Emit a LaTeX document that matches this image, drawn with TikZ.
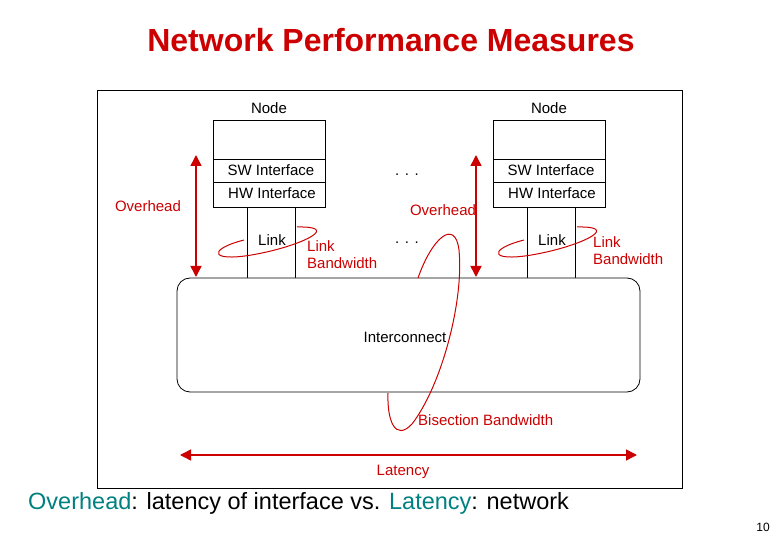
\documentclass[tikz,border=0pt]{standalone}
\usepackage{fontspec}
\setmainfont{Liberation Sans}
\usetikzlibrary{arrows.meta}
\definecolor{rd}{RGB}{204,0,0}
\definecolor{tl}{RGB}{0,128,128}
\begin{document}
\begin{tikzpicture}[x=1pt,y=-1pt,
  lbl/.style={font=\fontsize{15}{17}\selectfont,inner sep=0pt},
  rlbl/.style={lbl,text=rd,align=left},
  box/.style={draw=black,line width=0.8pt},
  rarr/.style={draw=rd,line width=1.5pt,{Triangle[length=11pt,width=11pt]}-{Triangle[length=11pt,width=11pt]}},
  loop/.style={draw=rd,line width=1pt}]
\useasboundingbox (0,0) rectangle (780,540);
\node[font=\bfseries\fontsize{32}{34}\selectfont,text=rd] (title) at (391,40) {Network Performance Measures};
\draw[line width=0.6pt] (97,90) rectangle (682,488);
% nodes
\foreach \d/\n in {0/L,280/R}{
  \draw[box] (213+\d,120) rectangle (325+\d,207);
  \draw[box] (213+\d,159) -- (325+\d,159) (213+\d,182) -- (325+\d,182);
  \draw[box] (247+\d,207) -- (247+\d,278) (295+\d,207) -- (295+\d,278);
  \node[lbl] (node\n) at (269+\d,108) {Node};
  \node[lbl] (sw\n) at (271+\d,170) {SW Interface};
  \node[lbl] (hw\n) at (272+\d,193) {HW Interface};
  \node[lbl] (link\n) at (272+\d,240) {Link};
  \draw[loop] (244+\d,240) .. controls (205+\d,250) and (210+\d,264) .. (262+\d,253) .. controls (305+\d,244) and (340+\d,226) .. (297+\d,227);
  \draw[rarr] (196+\d,155) -- (196+\d,277);
}
\node[rlbl,anchor=west] (lbL) at (307,254.5) {Link\\Bandwidth};
\node[rlbl,anchor=west] (lbR) at (593,250.5) {Link\\Bandwidth};
\node[rlbl] (ovL) at (148,206) {Overhead};
\node[rlbl] (ovR) at (443,210) {Overhead};
\node[lbl] (d1) at (407,175) {. . .};
\node[lbl] (d2) at (407,243) {. . .};
\draw[box,rounded corners=13pt,fill=white] (177,278) rectangle (640,392);
\node[lbl] (ic) at (405,337) {Interconnect};
\draw[loop] (418,278) .. controls (432,238) and (455,218) .. (459,250) .. controls (464,300) and (442,385) .. (412,424) .. controls (395,442) and (387,420) .. (388,393);
\node[rlbl,anchor=west] (bis) at (418,420) {Bisection Bandwidth};
\draw[rarr] (180,455) -- (637,455);
\node[rlbl] (lat) at (403,472) {Latency};
\node[anchor=west,font=\fontsize{23.5}{26}\selectfont,inner sep=0pt] (cap) at (28,503) {\textcolor{tl}{Overhead}: latency of interface vs. \textcolor{tl}{Latency}: network};
\node[anchor=east,font=\fontsize{12}{13}\selectfont,inner sep=0pt] (pg) at (770,527) {10};
\end{tikzpicture}
\end{document}
